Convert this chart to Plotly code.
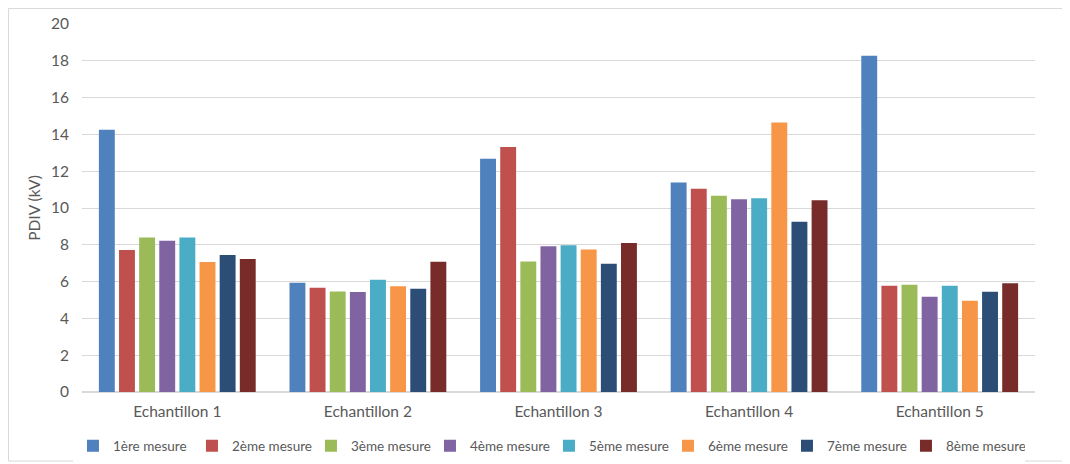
import plotly.graph_objects as go

categories = ["Echantillon 1", "Echantillon 2", "Echantillon 3", "Echantillon 4", "Echantillon 5"]
series_names = ["1ère mesure", "2ème mesure", "3ème mesure", "4ème mesure",
                "5ème mesure", "6ème mesure", "7ème mesure", "8ème mesure"]
m1 = [14.25, 5.94, 12.68, 11.39, 18.27]
m2 = [7.72, 5.66, 13.32, 11.05, 5.77]
m3 = [8.39, 5.46, 7.09, 10.67, 5.83]
m4 = [8.22, 5.43, 7.92, 10.47, 5.18]
m5 = [8.39, 6.10, 7.98, 10.53, 5.77]
m6 = [7.07, 5.75, 7.74, 14.65, 4.96]
m7 = [7.45, 5.61, 6.97, 9.25, 5.45]
m8 = [7.23, 7.08, 8.10, 10.42, 5.91]
series_values = [m1, m2, m3, m4, m5, m6, m7, m8]
colors = ["#4F81BD", "#C0504D", "#9BBB59", "#8064A2", "#4BACC6", "#F79646", "#2C4D75", "#772C2A"]
y_ticks = [0, 2, 4, 6, 8, 10, 12, 14, 16, 18, 20]

font_family = "Lato, 'Open Sans', sans-serif"
text_color = "#595959"
fs = 15.5

fig = go.Figure()
for name, vals, col in zip(series_names, series_values, colors):
    fig.add_trace(go.Bar(name=name, x=categories, y=vals, marker_color=col,
                         marker_line_width=0))

fig.update_layout(
    width=1062, height=456,
    margin=dict(l=74, r=35, t=16, b=72, autoexpand=False),
    paper_bgcolor="white", plot_bgcolor="white",
    barmode="group", bargap=0.155, bargroupgap=0.21,
    font=dict(family=font_family, size=fs, color=text_color),
    showlegend=True,
    legend=dict(orientation="h", x=0.49, xanchor="center",
                y=-0.147, yanchor="middle",
                font=dict(size=13.5, color=text_color), traceorder="normal",
                itemwidth=30, entrywidth=74, entrywidthmode="pixels"),
    xaxis=dict(showgrid=False, showline=False, ticks="", tickfont=dict(size=fs),
               ticklabelstandoff=8),
    yaxis=dict(range=[0, 20], tickvals=y_ticks, showgrid=True, gridcolor="#D9D9D9",
               gridwidth=1, zeroline=True, zerolinecolor="#D9D9D9", showline=False,
               ticks="", tickfont=dict(size=fs), ticklabelstandoff=12,
               title=dict(text="PDIV (kV)", font=dict(size=fs), standoff=6)),
    shapes=[dict(type="rect", xref="paper", yref="paper",
                 x0=-0.0771, x1=1.036, y0=-0.1875, y1=1.042,
                 line=dict(color="#D9D9D9", width=1), fillcolor="rgba(0,0,0,0)")],
)

fig.write_html("out.html")
